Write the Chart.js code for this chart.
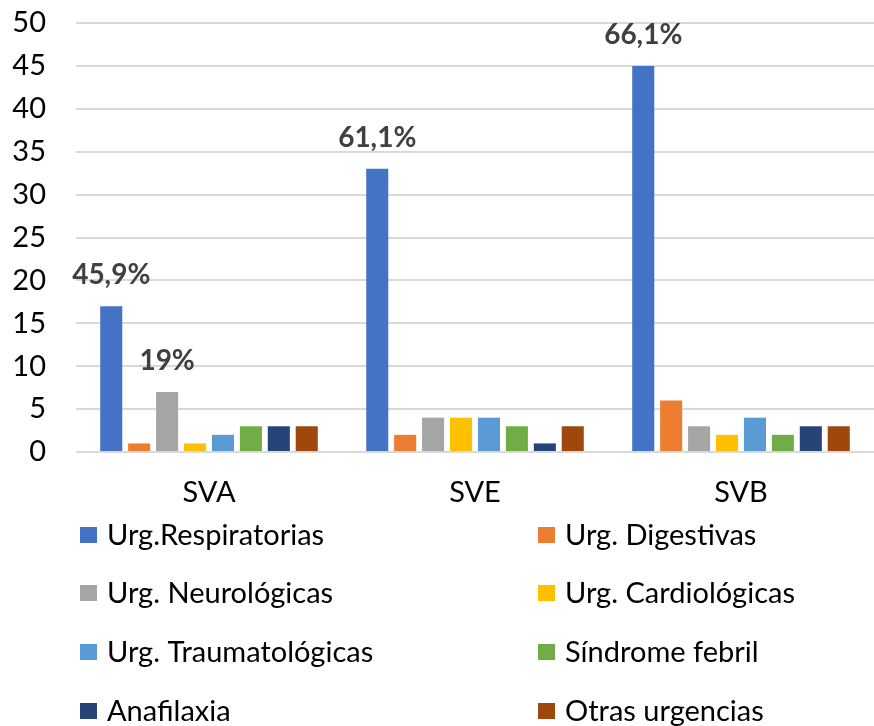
<!DOCTYPE html>
<html>
<head>
<meta charset="utf-8">
<script src="https://cdn.jsdelivr.net/npm/chart.js@4/dist/chart.umd.min.js"></script>
<style>
html,body{margin:0;padding:0;background:#fff;}
#wrap{position:relative;width:874px;height:726px;}
</style>
</head>
<body>
<div id="wrap"><canvas id="c" width="874" height="726"></canvas></div>
<script>
const categories = ['SVA', 'SVE', 'SVB'];
const seriesNames = ['Urg.Respiratorias', 'Urg. Digestivas', 'Urg. Neurológicas', 'Urg. Cardiológicas',
  'Urg. Traumatológicas', 'Síndrome febril', 'Anafilaxia', 'Otras urgencias'];
const respiratorias = [17, 33, 45];
const digestivas = [1, 2, 6];
const neurologicas = [7, 4, 3];
const cardiologicas = [1, 4, 2];
const traumatologicas = [2, 4, 4];
const febril = [3, 3, 2];
const anafilaxia = [3, 1, 3];
const otras = [3, 3, 3];
const respLabels = ['45,9%', '61,1%', '66,1%'];
const neuroLabels = ['19%', '', ''];
const yTicks = [0, 5, 10, 15, 20, 25, 30, 35, 40, 45, 50];

const colors = ['#4472C4', '#ED7D31', '#A5A5A5', '#FFC000', '#5B9BD5', '#70AD47', '#264478', '#9E480E'];
const values = [respiratorias, digestivas, neurologicas, cardiologicas, traumatologicas, febril, anafilaxia, otras];
const pctLabels = [respLabels, null, neuroLabels, null, null, null, null, null];

const FONT = 'Lato, "Open Sans", sans-serif';

const labelPlugin = {
  id: 'pctLabels',
  afterDatasetsDraw(chart) {
    const ctx = chart.ctx;
    ctx.save();
    ctx.font = 'bold 28px ' + FONT;
    ctx.fillStyle = '#404040';
    ctx.textAlign = 'center';
    ctx.textBaseline = 'middle';
    chart.data.datasets.forEach((ds, i) => {
      const labs = pctLabels[i];
      if (!labs) return;
      const meta = chart.getDatasetMeta(i);
      meta.data.forEach((bar, j) => {
        if (labs[j]) ctx.fillText(labs[j], bar.x, bar.y - 31);
      });
    });
    ctx.restore();
  }
};

const legendPlugin = {
  id: 'gridLegend',
  afterDraw(chart) {
    const ctx = chart.ctx;
    ctx.save();
    ctx.font = '29px ' + FONT;
    ctx.textAlign = 'left';
    ctx.textBaseline = 'middle';
    const colX = [80, 538];
    const rowY = [535, 593, 652, 711];
    chart.data.datasets.forEach((ds, i) => {
      const col = i % 2, row = Math.floor(i / 2);
      const x = colX[col], y = rowY[row];
      ctx.fillStyle = ds.backgroundColor;
      ctx.fillRect(x, y - 8, 17, 16);
      ctx.fillStyle = '#000';
      ctx.fillText(ds.label, x + 27, y + 1);
    });
    ctx.restore();
  }
};

new Chart(document.getElementById('c'), {
  type: 'bar',
  data: {
    labels: categories,
    datasets: seriesNames.map((n, i) => ({
      label: n,
      data: values[i],
      backgroundColor: colors[i],
      borderWidth: 0,
      categoryPercentage: 0.84,
      barPercentage: 0.79
    }))
  },
  options: {
    responsive: false,
    animation: false,
    layout: { padding: { top: 23, left: 6, right: 0, bottom: 214 } },
    plugins: { legend: { display: false }, tooltip: { enabled: false } },
    scales: {
      x: {
        afterFit(scale) { scale.height = 60; scale.paddingLeft = 0; scale.paddingRight = 0; },
        grid: { display: false, drawTicks: false },
        border: { display: false },
        ticks: { font: { family: FONT, size: 29 }, color: '#000', padding: 23 }
      },
      y: {
        min: 0, max: 50,
        afterBuildTicks(scale) { scale.ticks = yTicks.map(v => ({ value: v })); },
        afterFit(scale) { scale.width = 70; scale.paddingTop = 0; scale.paddingBottom = 0; },
        grid: { color: '#d9d9d9', lineWidth: 2, drawTicks: false },
        border: { display: false },
        ticks: { font: { family: FONT, size: 29 }, color: '#000', padding: 30 }
      }
    }
  },
  plugins: [labelPlugin, legendPlugin]
});
</script>
</body>
</html>
